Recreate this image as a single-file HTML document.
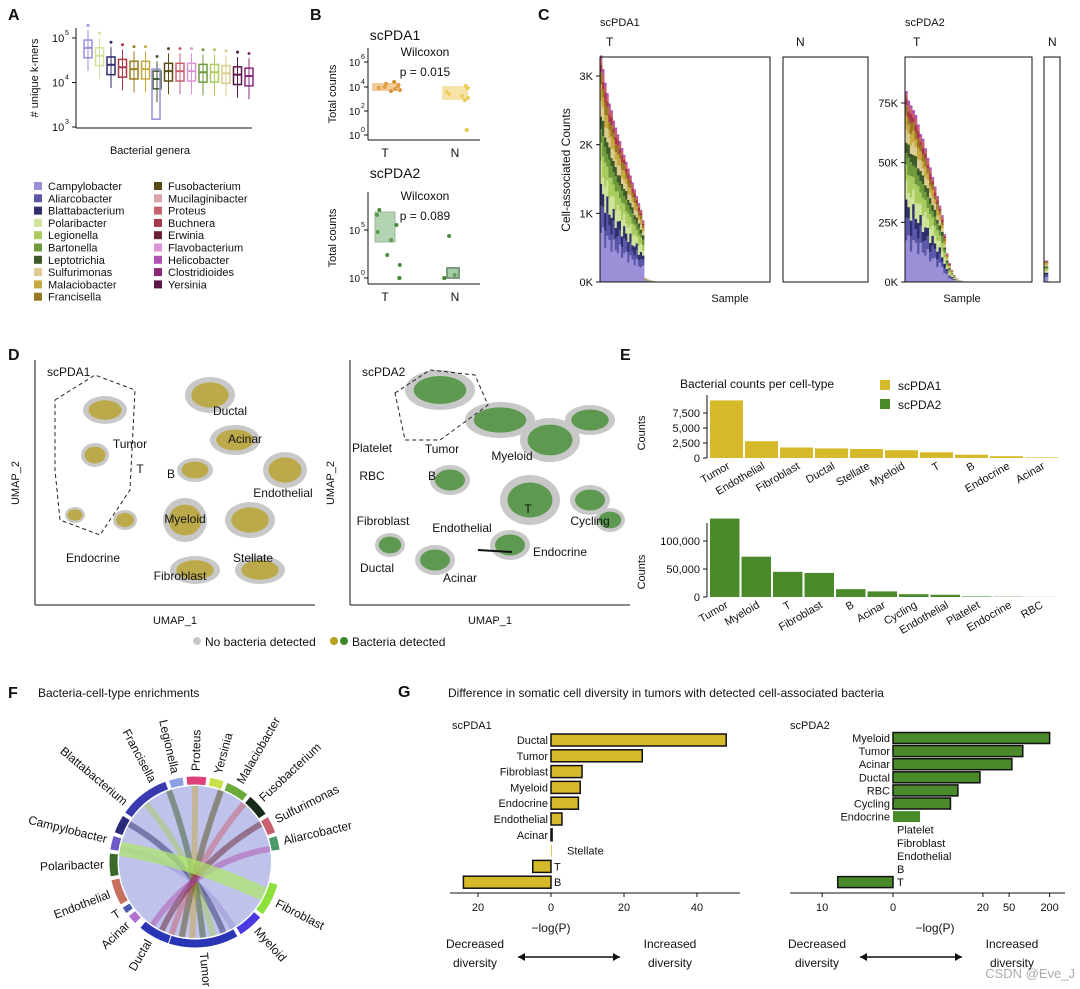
<!DOCTYPE html>
<html><head><meta charset="utf-8"><style>
body{margin:0;background:#fff}
svg{display:block;font-family:"Liberation Sans",Arial,sans-serif}
</style></head><body>
<svg id="fig" width="1080" height="989" viewBox="0 0 1080 989" xmlns="http://www.w3.org/2000/svg"></svg>
<script>
// ---------- DATA ----------
const eTopCats=["Tumor","Endothelial","Fibroblast","Ductal","Stellate","Myeloid","T","B","Endocrine","Acinar"];
const eTopVals=[9600,2800,1750,1600,1500,1300,950,550,300,100];
const eTopTicks=[0,2500,5000,7500];
const eTopTickLabels=["0","2,500","5,000","7,500"];
const eBotCats=["Tumor","Myeloid","T","Fibroblast","B","Acinar","Cycling","Endothelial","Platelet","Endocrine","RBC"];
const eBotVals=[140000,72000,45000,43000,14000,10000,5000,4000,1000,500,200];
const eBotTicks=[0,50000,100000];
const eBotTickLabels=["0","50,000","100,000"];
const gLeftCats=["Ductal","Tumor","Fibroblast","Myeloid","Endocrine","Endothelial","Acinar","Stellate","T","B"];
const gLeftVals=[48,25,8.5,8,7.5,3,0.3,0,-5,-24];
const gLeftTicks=[-20,0,20,40];
const gRightCats=["Myeloid","Tumor","Acinar","Ductal","RBC","Cycling","Endocrine","Platelet","Fibroblast","Endothelial","B","T"];
const gRightVals=[200,80,55,18,8,6,1.5,0,0,0,0,-5.5];
const gRightTicks=[-10,0,20,50,200];
const c1Totals=[3300,3100,2900,2750,2600,2500,2350,2250,2150,2050,1950,1850,1750,1650,1550,1450,1350,1250,1150,1050,900,60,40,30,20,15,10,8,5,4];
const c2Totals=[80000,76000,74000,72000,70000,66000,62000,60000,56000,52000,48000,44000,40000,36000,32000,28000,20000,12000,8000,5000,3000,1500,800,500,300];
const c2NTotals=[9000];
const genera=["Campylobacter","Aliarcobacter","Blattabacterium","Polaribacter","Legionella","Bartonella","Leptotrichia","Sulfurimonas","Malaciobacter","Francisella","Fusobacterium","Mucilaginibacter","Proteus","Buchnera","Erwinia","Flavobacterium","Helicobacter","Clostridioides","Yersinia"];
const generaColors=["#9b8fd8","#5a56a8","#2e2f6b","#cfe39a","#aacc5e","#6f9a3c","#3d5a28","#dccb8e","#c8a840","#9a7a20","#5a4a18","#dca2aa","#c86070","#a83848","#6a2030","#dc92d4","#b050b0","#8a2878","#5a1848"];
const stackFrac=[0.22,0.1,0.08,0.1,0.1,0.08,0.06,0.06,0.06,0.05,0.04,0.03,0.02];
const stackColIdx=[0,1,2,3,4,5,6,7,8,9,13,12,16];

// ---------- HELPERS ----------
const S="http://www.w3.org/2000/svg", svg=document.getElementById('fig');
function mk(tag,attrs,parent,txt){const e=document.createElementNS(S,tag);for(const k in attrs)e.setAttribute(k,attrs[k]);if(txt!==undefined)e.textContent=txt;(parent||svg).appendChild(e);return e;}
function grp(name){const g=mk('g',{});return g;}
function txt(p,x,y,s,size,extra){const t=mk('text',Object.assign({x:x,y:y,'font-size':size||12,fill:'#111'},extra||{}),p,s);return t;}
function line(p,x1,y1,x2,y2,c,w){return mk('line',{x1,y1,x2,y2,stroke:c||'#111','stroke-width':w||1},p);}

// ---------- PANEL LETTERS ----------
[["A",8,20],["B",310,20],["C",538,20],["D",8,360],["E",620,360],["F",8,698],["G",398,697]].forEach(l=>{const t=txt(svg,l[1],l[2],l[0],16,{'font-weight':'bold'});});

// ---------- PANEL A ----------
(function(){
const g=grp('panel-a-boxplot');
line(g,76,28,76,128);line(g,76,128,252,128);
const ly=v=>127-(Math.log10(v)-3)*44.5;
[[3],[4],[5]].forEach(t=>{const y=ly(Math.pow(10,t[0]));line(g,72,y,76,y);txt(g,52,y+4,"10",11);txt(g,65,y-3,String(t[0]),7);});
txt(g,0,0,"# unique k-mers",11,{transform:'translate(38,78) rotate(-90)','text-anchor':'middle'});
txt(g,150,154,"Bacterial genera",11,{'text-anchor':'middle'});
const med=[60000,40000,25000,22000,20000,20000,12000,18000,18000,18000,17000,17000,16000,15000,14000];
const cols=[0,3,2,13,9,8,6,10,12,15,5,4,7,18,17];
med.forEach((m,i)=>{const x=88+i*11.5,c=generaColors[cols[i]];
 const y1=ly(m*1.5),y2=ly(m*0.6);
 line(g,x,ly(m*2.5),x,ly(m*0.3),c);
 mk('rect',{x:x-4,y:y1,width:8,height:y2-y1,fill:'none',stroke:c,'stroke-width':1.5},g);
 line(g,x-4,ly(m),x+4,ly(m),c,2);
 mk('circle',{cx:x,cy:ly(m*3.2),r:1.5,fill:c},g);});
mk('rect',{x:152,y:ly(20000),width:8,height:ly(1500)-ly(20000),fill:'none',stroke:'#9b8fd8','stroke-width':1.5},g);
const lg=grp('panel-a-legend');
genera.forEach((n,i)=>{const col=i<10?0:1,r=i<10?i:i-10,x=34+col*120,y=186+r*12.3;
 const e=mk('g',{},lg);
 mk('rect',{x:x,y:y-4,width:8,height:8,fill:generaColors[i]},e);txt(e,x+14,y+4,n,11);});
})();

// ---------- PANEL B ----------
(function(){
function bp(y0,title,pv,ticks,color,T,N,top){
 const g=grp('panel-b-'+title.toLowerCase());
 txt(g,395,y0,title,14,{'text-anchor':'middle'});
 const yb=top+92; line(g,368,top,368,yb);line(g,368,yb,480,yb);
 ticks.forEach(t=>{line(g,364,t[0],368,t[0]);txt(g,349,t[0]+4,"10",10);txt(g,361,t[0]-3,t[1],7);});
 txt(g,0,0,"Total counts",11,{transform:`translate(336,${top+46}) rotate(-90)`,'text-anchor':'middle'});
 txt(g,385,yb+17,"T",12,{'text-anchor':'middle'});txt(g,455,yb+17,"N",12,{'text-anchor':'middle'});
 txt(g,425,top+8,"Wilcoxon",12,{'text-anchor':'middle'});txt(g,425,top+28,"p = "+pv,12,{'text-anchor':'middle'});
 T.forEach(v=>mk('circle',{cx:372+Math.abs(Math.sin(v*7))*28,cy:v,r:2,fill:color[0]},g));
 N.forEach(v=>mk('circle',{cx:440+Math.abs(Math.cos(v*5))*28,cy:v,r:2,fill:color[1]},g));
 return g;}
const g1=bp(40,"scPDA1","0.015",[[62,"6"],[87,"4"],[111,"2"],[135,"0"]],["#d98c2a","#e8c84a"],[84,86,88,85,90,82,87,89,91,86,84],[88,92,96,98,86,130,130,100,94],48);
mk('rect',{x:372,y:83,width:28,height:8,fill:'#e8a85a',opacity:0.6},g1);mk('rect',{x:442,y:86,width:26,height:14,fill:'#eed070',opacity:0.6},g1);
const g2=bp(178,"scPDA2","0.089",[[230,"5"],[278,"0"]],["#4a8a3a","#4a8a3a"],[210,225,240,255,265,278,278,278,215,232],[278,278,278,236,275],192);
mk('rect',{x:375,y:212,width:20,height:30,fill:'#6aaa6a',opacity:0.5,stroke:'#3a7a3a'},g2);
mk('rect',{x:447,y:268,width:12,height:10,fill:'#6aaa6a',opacity:0.6,stroke:'#2a5a2a','stroke-width':2},g2);
})();

// ---------- PANEL C ----------
(function(){
const g=grp('panel-c-stacked-bars');
txt(g,600,26,"scPDA1",11);txt(g,905,26,"scPDA2",11);
txt(g,606,46,"T",12);txt(g,796,46,"N",12);txt(g,913,46,"T",12);txt(g,1048,46,"N",12);
const base=282;
const y1=v=>base-v*(282-76)/3000, y2=v=>base-v*(282-103)/75000;
[[0,"0K"],[1000,"1K"],[2000,"2K"],[3000,"3K"]].forEach(t=>{line(g,596,y1(t[0]),600,y1(t[0]));txt(g,593,y1(t[0])+4,t[1],11,{'text-anchor':'end'});});
[[0,"0K"],[25000,"25K"],[50000,"50K"],[75000,"75K"]].forEach(t=>{line(g,901,y2(t[0]),905,y2(t[0]));txt(g,898,y2(t[0])+4,t[1],11,{'text-anchor':'end'});});
txt(g,0,0,"Cell-associated Counts",12,{transform:'translate(570,170) rotate(-90)','text-anchor':'middle'});
txt(g,730,302,"Sample",11,{'text-anchor':'middle'});txt(g,962,302,"Sample",11,{'text-anchor':'middle'});
function stack(tot,x0,w,yf,shift){tot.forEach((t,i)=>{let acc=0;const fs=stackFrac.map((f,k)=>f*(1+0.25*Math.sin(i*2.3+k)));const sum=fs.reduce((a,b)=>a+b,0);
 fs.forEach((f,k)=>{const h=t*f/sum;const ya=yf(acc),yb=yf(acc+h);acc+=h;
 mk('rect',{x:x0+i*w,y:yb,width:w+0.3,height:ya-yb,fill:generaColors[(stackColIdx[k]+shift)%19]},g);});});}
stack(c1Totals,600,2.1,y1,0);stack(c2Totals,905,2.4,y2,0);stack(c2NTotals,1044,4,y2,0);
[[600,57,170],[783,57,85],[905,57,127],[1044,57,16]].forEach(b=>mk('rect',{x:b[0],y:b[1],width:b[2],height:225,fill:'none',stroke:'#111'},g));
})();

// ---------- PANEL D ----------
(function(){
function umap(x0,title,col,blobs,labels,name){
 const g=grp(name);
 line(g,x0,360,x0,605);line(g,x0,605,x0+280,605);
 txt(g,x0+12,376,title,12);
 txt(g,x0+140,624,"UMAP_1",11,{'text-anchor':'middle'});
 txt(g,0,0,"UMAP_2",11,{transform:`translate(${x0-16},483) rotate(-90)`,'text-anchor':'middle'});
 blobs.forEach(b=>{mk('ellipse',{cx:x0+b[0],cy:b[1],rx:b[2],ry:b[3],fill:'#c8c8c8'},g);
  mk('ellipse',{cx:x0+b[0],cy:b[1],rx:b[2]*0.75,ry:b[3]*0.7,fill:col,opacity:0.75},g);});
 labels.forEach(l=>txt(g,x0+l[1],l[2],l[0],12,{'text-anchor':'middle'}));
 return g;}
const g1=umap(35,"scPDA1","#b8a020",[[70,410,22,14],[60,455,14,12],[40,515,10,8],[90,520,12,10],[175,395,25,18],[200,440,25,15],[250,470,22,18],[160,470,18,12],[150,520,22,22],[215,520,25,18],[160,570,25,14],[225,570,25,14]],[["Tumor",95,448],["Ductal",195,415],["Acinar",210,443],["T",105,473],["B",136,478],["Endothelial",248,497],["Myeloid",150,523],["Endocrine",58,562],["Stellate",218,562],["Fibroblast",145,580]],'panel-d-umap-scpda1');
mk('path',{d:'M55,400 L95,375 L135,390 L130,490 L100,535 L60,520 L55,470 Z',fill:'none',stroke:'#222','stroke-dasharray':'4,3'},g1);
const g2=umap(350,"scPDA2","#3a8a2a",[[90,390,35,20],[150,420,35,18],[200,440,30,22],[240,420,25,15],[180,500,30,25],[100,480,20,15],[40,545,15,12],[85,560,20,15],[240,500,20,15],[260,520,15,12],[160,545,20,15]],[["Platelet",22,452],["Tumor",92,453],["Myeloid",162,460],["B",82,480],["RBC",22,480],["Cycling",240,525],["T",178,513],["Fibroblast",33,525],["Endothelial",112,532],["Endocrine",210,556],["Ductal",27,572],["Acinar",110,582]],'panel-d-umap-scpda2');
mk('path',{d:'M395,393 L430,370 L475,375 L488,405 L440,440 L405,440 Z',fill:'none',stroke:'#222','stroke-dasharray':'4,3'},g2);
line(g2,478,550,512,552,'#111',2);
const lg=grp('panel-d-legend');
mk('circle',{cx:197,cy:641,r:4,fill:'#c8c8c8'},lg);txt(lg,205,646,"No bacteria detected",12);
mk('circle',{cx:334,cy:641,r:4,fill:'#b8a020'},lg);mk('circle',{cx:344,cy:641,r:4,fill:'#3a8a2a'},lg);txt(lg,352,646,"Bacteria detected",12);
})();

// ---------- PANEL E ----------
(function(){
const g=grp('panel-e-bars');
txt(g,680,388,"Bacterial counts per cell-type",12);
const l1=mk('g',{},g);
mk('rect',{x:880,y:380,width:10,height:10,fill:'#d6b928'},l1);txt(l1,898,390,"scPDA1",12);
const l2=mk('g',{},g);
mk('rect',{x:880,y:399,width:10,height:10,fill:'#4a8a2a'},l2);txt(l2,898,409,"scPDA2",12);
function chart(cats,vals,ticks,tl,y0,ppu,color,step,name){
 const yS=v=>y0-v*ppu;
 line(g,707,yS(ticks[ticks.length-1])-18,707,y0);
 ticks.forEach((t,i)=>{line(g,703,yS(t),707,yS(t));txt(g,700,yS(t)+4,tl[i],11,{'text-anchor':'end'});});
 txt(g,0,0,"Counts",11,{transform:`translate(645,${y0-25}) rotate(-90)`,'text-anchor':'middle'});
 cats.forEach((c,i)=>{const r=mk('rect',{x:710+i*step,y:yS(vals[i]),width:step-2,height:y0-yS(vals[i]),fill:color},g);
  
  txt(g,0,0,c,11,{transform:`translate(${710+i*step+step/2+3},${y0+10}) rotate(-30)`,'text-anchor':'end'});});}
chart(eTopCats,eTopVals,eTopTicks,eTopTickLabels,458,0.006,'#d6b928',35,'scpda1');
chart(eBotCats,eBotVals,eBotTicks,eBotTickLabels,597,0.00056,'#4a8a2a',31.5,'scpda2');
})();

// ---------- PANEL F ----------
(function(){
const g=grp('panel-f-chord');
txt(g,38,697,"Bacteria-cell-type enrichments",12);
const cx=195,cy=862,R=86;
const pt=(a,r)=>[cx+r*Math.cos(a*Math.PI/180),cy+r*Math.sin(a*Math.PI/180)];
mk('circle',{cx,cy,r:R-10,fill:'#8a90d8',opacity:0.55},g);
for(let i=0;i<9;i++){const a=pt(-170+i*20,R-10),b=pt(60+i*8,R-10);mk('path',{d:`M${a[0]},${a[1]} Q${cx},${cy} ${b[0]},${b[1]}`,fill:'none',stroke:generaColors[i*2],'stroke-width':6,opacity:0.5},g);}
mk('path',{d:(()=>{const a=pt(25,R-10),b=pt(-170,R-10);return `M${a[0]},${a[1]} Q${cx},${cy} ${b[0]},${b[1]}`})(),fill:'none',stroke:'#aeea6a','stroke-width':14,opacity:0.7},g);
function arc(a1,a2,col){const p1=pt(a1,R),p2=pt(a2,R),p3=pt(a2,R-9),p4=pt(a1,R-9);const lg=(a2-a1)>180?1:0;
 mk('path',{d:`M${p1[0]},${p1[1]} A${R},${R} 0 ${lg} 1 ${p2[0]},${p2[1]} L${p3[0]},${p3[1]} A${R-9},${R-9} 0 ${lg} 0 ${p4[0]},${p4[1]} Z`,fill:col,stroke:'#fff','stroke-width':1},g);}
arc(60,130,"#2a35b5");arc(134,141,"#b070d0");arc(143,148,"#4a5ab0");arc(150,168,"#c87060");arc(170,186,"#3a6a2a");arc(188,198,"#6a5ac8");arc(200,213,"#2a2a7a");arc(215,250,"#3a3ab0");arc(252,262,"#8aa0e0");arc(264,278,"#e0407a");arc(280,290,"#c8e04a");arc(292,308,"#6aaa3a");arc(310,326,"#1a2a1a");arc(328,340,"#c86070");arc(342,352,"#4a9a6a");arc(15,38,"#8ee03a");arc(40,58,"#4a3ae0");
arc(108,130,"#2a35b5");
const labs=[["Tumor",85],["Myeloid",48],["Fibroblast",27],["Aliarcobacter",-13],["Sulfurimonas",-27],["Fusobacterium",-43],["Malaciobacter",-60],["Yersinia",-75],["Proteus",-89],["Legionella",-103],["Francisella",-118],["Blattabacterium",-140],["Campylobacter",-166],["Polaribacter",178],["Endothelial",159],["T",146],["Acinar",137],["Ductal",120]];
labs.forEach(l=>{const a=l[1],p=pt(a,R+5);let rot=a,anchor='start';if(Math.cos(a*Math.PI/180)<0){rot=a+180;anchor='end';}
 txt(g,0,0,l[0],12,{transform:`translate(${p[0]},${p[1]}) rotate(${rot})`,'text-anchor':anchor,'dominant-baseline':'middle'});});
})();

// ---------- PANEL G ----------
(function(){
const g=grp('panel-g-bars');
txt(g,448,697,"Difference in somatic cell diversity in tumors with detected cell-associated bacteria",12);
txt(g,452,729,"scPDA1",11);txt(g,790,729,"scPDA2",11);
const xL=v=>551+v*3.65, rowL=i=>740+i*15.8;
line(g,450,893,740,893);
gLeftTicks.forEach(t=>{line(g,xL(t),893,xL(t),897);txt(g,xL(t),911,String(Math.abs(t)),11,{'text-anchor':'middle'});});
gLeftCats.forEach((c,i)=>{const v=gLeftVals[i],y=rowL(i);
 const r=mk('rect',{x:Math.min(xL(0),xL(v)),y:y-6,width:Math.max(Math.abs(xL(v)-xL(0)),0.8),height:12,fill:'#d6b928',stroke:'#111','stroke-width':v===0?0:1.5},g);
 
 if(v>0)txt(g,xL(0)-3,y+4,c,11,{'text-anchor':'end'});else if(v<0)txt(g,xL(0)+3,y+4,c,11);else txt(g,xL(0)+16,y+4,c,11);});
txt(g,551,932,"−log(P)",12,{'text-anchor':'middle'});
const xR=v=>893+Math.sign(v)*68*Math.log10(1+Math.abs(v)), rowR=i=>738+i*13.1;
line(g,790,893,1065,893);
gRightTicks.forEach(t=>{line(g,xR(t),893,xR(t),897);txt(g,xR(t),911,String(Math.abs(t)),11,{'text-anchor':'middle'});});
gRightCats.forEach((c,i)=>{const v=gRightVals[i],y=rowR(i);
 const r=mk('rect',{x:Math.min(xR(0),xR(v)),y:y-5.5,width:Math.abs(xR(v)-xR(0)),height:11,fill:'#4a8a2a',stroke:'#111','stroke-width':(v===0||Math.abs(v)<2)?0:1.5},g);
 
 if(v>0)txt(g,xR(0)-3,y+4,c,11,{'text-anchor':'end'});else txt(g,xR(0)+4,y+4,c,11);});
txt(g,935,932,"−log(P)",12,{'text-anchor':'middle'});
[[470,590],[812,932]].forEach(p=>{txt(g,p[0]+5,948,"Decreased",12,{'text-anchor':'middle'});txt(g,p[0]+5,967,"diversity",12,{'text-anchor':'middle'});
 txt(g,p[1]+80,948,"Increased",12,{'text-anchor':'middle'});txt(g,p[1]+80,967,"diversity",12,{'text-anchor':'middle'});
 line(g,p[0]+48,957,p[1]+30,957,'#111',1.5);
 mk('path',{d:`M${p[0]+48},957 l7,-4 v8 Z M${p[1]+30},957 l-7,-4 v8 Z`,fill:'#111'},g);});
txt(g,1075,978,"CSDN @Eve_J",13,{'text-anchor':'end',fill:'#aaa'});
})();
</script>
</body></html>
